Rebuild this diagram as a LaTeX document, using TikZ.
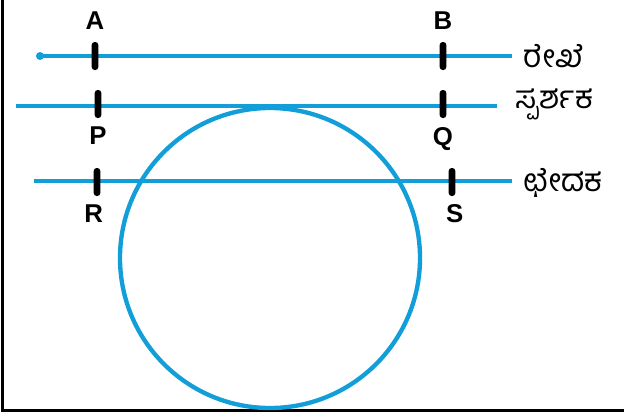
\documentclass[tikz,border=0pt]{standalone}
\usepackage{fontspec}
\setmainfont{Liberation Sans}
\newfontfamily\kanfont[Script=Kannada]{Hind Mysuru}
\usetikzlibrary{positioning}
\definecolor{lineblue}{RGB}{18,158,216}

\begin{document}
\begin{tikzpicture}[x=0.03cm,y=-0.03cm,
                    blue line/.style={draw=lineblue,line width=0.14cm},
                    tickbar/.style={fill=black,rounded corners=0.09cm,minimum width=0.2cm,
                                    minimum height=0.84cm,inner sep=0pt},
                    pt label/.style={font=\bfseries\fontsize{22}{24}\selectfont,inner sep=0pt},
                    kan label/.style={font=\kanfont\fontsize{27}{30}\selectfont,inner sep=0pt}]

  \useasboundingbox (0,0) rectangle (624,418);
  \draw[line width=0.09cm] (2,0) -- (2,410) -- (624,410);

  % lines
  \coordinate (l1a) at (40,56);  \coordinate (l1b) at (512,56);
  \coordinate (l2a) at (16,106); \coordinate (l2b) at (497,106);
  \coordinate (l3a) at (34,181); \coordinate (l3b) at (512,181);
  \draw[blue line] (l1a) -- (l1b);
  \fill[lineblue] (l1a) circle (4);
  \draw[blue line] (l2a) -- (l2b);
  \draw[blue line] (l3a) -- (l3b);

  % circle
  \node[circle,draw=lineblue,line width=0.13cm,minimum size=9cm,inner sep=0pt] (circ) at (270,258) {};

  % ticks
  \node[tickbar] (tA) at (95,56) {};
  \node[tickbar] (tB) at (443,56) {};
  \node[tickbar] (tP) at (98,104) {};
  \node[tickbar] (tQ) at (443,104) {};
  \node[tickbar] (tR) at (97,182) {};
  \node[tickbar] (tS) at (452,182) {};

  \node[pt label,above=0.36cm of tA] (A) {A};
  \node[pt label,above=0.36cm of tB] (B) {B};
  \node[pt label,below=0.26cm of tP] (P) {P};
  \node[pt label,below=0.26cm of tQ] (Q) {Q};
  \node[pt label,below=0.24cm of tR,xshift=-0.1cm] (R) {R};
  \node[pt label,below=0.24cm of tS,xshift=0.08cm] (S) {S};

  % names
  \node[kan label,anchor=west,right=0.35cm of l1b] (rekhe) {ರೇಖೆ};
  \node[kan label,anchor=west,right=0.55cm of l2b,yshift=0.05cm] (sparshaka) {ಸ್ಪರ್ಶಕ};
  \node[kan label,anchor=west,right=0.35cm of l3b,yshift=-0.05cm] (chedaka) {ಛೇದಕ};
\end{tikzpicture}
\end{document}
